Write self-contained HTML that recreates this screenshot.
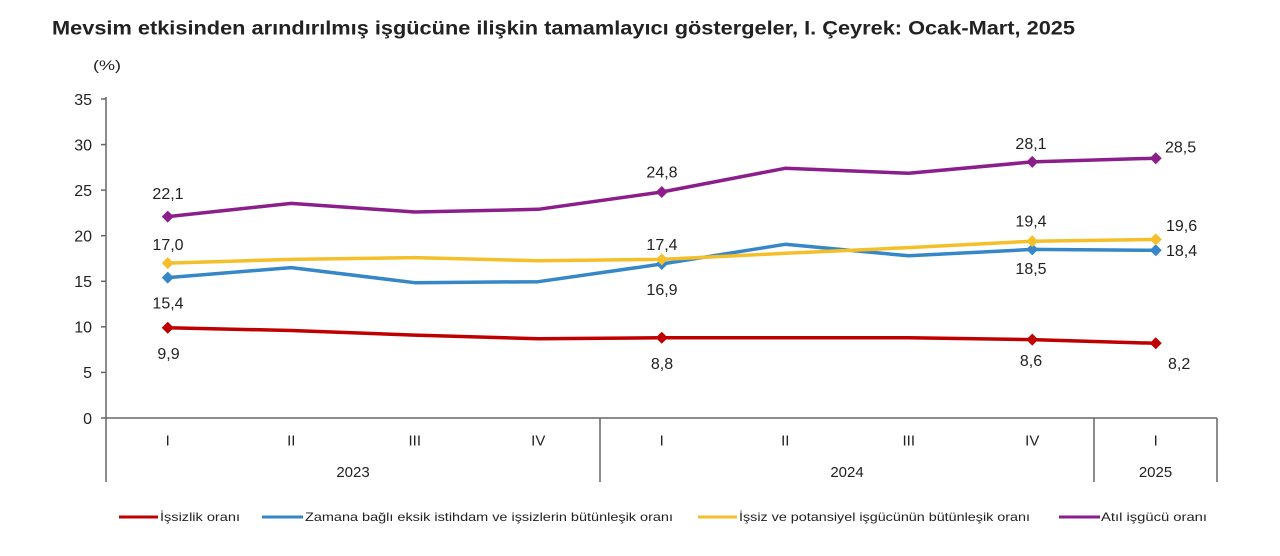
<!DOCTYPE html>
<html><head><meta charset="utf-8"><style>
html,body{margin:0;padding:0;background:#fff;width:1280px;height:556px;overflow:hidden}
svg{display:block}
text{font-family:"Liberation Sans",Arial,sans-serif;fill:#222}
</style></head><body>
<svg width="1280" height="556" viewBox="0 0 1280 556" xmlns="http://www.w3.org/2000/svg">
<text x="52" y="34.5" font-size="19" font-weight="bold" fill="#111" textLength="1023" lengthAdjust="spacingAndGlyphs">Mevsim etkisinden arındırılmış işgücüne ilişkin tamamlayıcı göstergeler, I. Çeyrek: Ocak-Mart, 2025</text>
<text x="93" y="70" font-size="14" textLength="28" lengthAdjust="spacingAndGlyphs">(%)</text>

<!-- y axis ticks and labels -->
<g stroke="#666" stroke-width="1.5">
<line x1="106" y1="97" x2="106" y2="482"/>
<line x1="106" y1="418" x2="1217" y2="418"/>
<line x1="600" y1="418" x2="600" y2="482"/>
<line x1="1094" y1="418" x2="1094" y2="482"/>
<line x1="1217" y1="418" x2="1217" y2="482"/>
<line x1="101" y1="418" x2="106" y2="418"/>
<line x1="101" y1="372.4" x2="106" y2="372.4"/>
<line x1="101" y1="326.8" x2="106" y2="326.8"/>
<line x1="101" y1="281.3" x2="106" y2="281.3"/>
<line x1="101" y1="235.7" x2="106" y2="235.7"/>
<line x1="101" y1="190.1" x2="106" y2="190.1"/>
<line x1="101" y1="144.6" x2="106" y2="144.6"/>
<line x1="101" y1="99" x2="106" y2="99"/>
</g>
<g font-size="16" text-anchor="end">
<text x="92" y="423.8">0</text>
<text x="92" y="378.2">5</text>
<text x="92" y="332.6">10</text>
<text x="92" y="287.1">15</text>
<text x="92" y="241.5">20</text>
<text x="92" y="195.9">25</text>
<text x="92" y="150.4">30</text>
<text x="92" y="104.8">35</text>
</g>

<!-- x labels -->
<g font-size="15" text-anchor="middle">
<text x="167.75" y="445.4">I</text>
<text x="291.25" y="445.4">II</text>
<text x="414.75" y="445.4">III</text>
<text x="538.25" y="445.4">IV</text>
<text x="661.75" y="445.4">I</text>
<text x="785.25" y="445.4">II</text>
<text x="908.75" y="445.4">III</text>
<text x="1032.25" y="445.4">IV</text>
<text x="1155.75" y="445.4">I</text>
<text x="353" y="477">2023</text>
<text x="847" y="477">2024</text>
<text x="1155.5" y="477">2025</text>
</g>

<!-- series -->
<g fill="none" stroke-width="3.5" stroke-linejoin="round" stroke-linecap="round">
<polyline stroke="#C00000" points="167.75,327.8 291.25,330.5 414.75,335.1 538.25,338.7 661.75,337.8 785.25,337.8 908.75,337.8 1032.25,339.6 1155.75,343.3"/>
<polyline stroke="#3587C7" points="167.75,277.6 291.25,267.6 414.75,282.7 538.25,281.7 661.75,264.0 785.25,244.3 908.75,255.8 1032.25,249.4 1155.75,250.3"/>
<polyline stroke="#F5BF2A" points="167.75,263.1 291.25,259.4 414.75,257.6 538.25,260.7 661.75,259.4 785.25,253.3 908.75,247.6 1032.25,241.2 1155.75,239.4"/>
<polyline stroke="#8B1E8B" points="167.75,216.6 291.25,203.4 414.75,212.0 538.25,209.3 661.75,192.0 785.25,168.3 908.75,173.3 1032.25,161.9 1155.75,158.2"/>
</g>

<!-- markers -->
<defs><path id="d" d="M0,-6 L6,0 L0,6 L-6,0 Z"/></defs>
<g fill="#C00000">
<use href="#d" x="167.75" y="327.8"/><use href="#d" x="661.75" y="337.8"/><use href="#d" x="1032.25" y="339.6"/><use href="#d" x="1155.75" y="343.3"/>
</g>
<g fill="#3587C7">
<use href="#d" x="167.75" y="277.6"/><use href="#d" x="661.75" y="264.0"/><use href="#d" x="1032.25" y="249.4"/><use href="#d" x="1155.75" y="250.3"/>
</g>
<g fill="#F5BF2A">
<use href="#d" x="167.75" y="263.1"/><use href="#d" x="661.75" y="259.4"/><use href="#d" x="1032.25" y="241.2"/><use href="#d" x="1155.75" y="239.4"/>
</g>
<g fill="#8B1E8B">
<use href="#d" x="167.75" y="216.6"/><use href="#d" x="661.75" y="192.0"/><use href="#d" x="1032.25" y="161.9"/><use href="#d" x="1155.75" y="158.2"/>
</g>

<!-- data labels -->
<g font-size="16" text-anchor="middle">
<text x="168" y="198.8">22,1</text>
<text x="168" y="249.8">17,0</text>
<text x="168" y="308.5">15,4</text>
<text x="168.5" y="358.8">9,9</text>
<text x="662" y="177.5">24,8</text>
<text x="662" y="249.8">17,4</text>
<text x="662" y="294.8">16,9</text>
<text x="662" y="368.8">8,8</text>
<text x="1031" y="149.1">28,1</text>
<text x="1031" y="226.5">19,4</text>
<text x="1031" y="274.1">18,5</text>
<text x="1031" y="365.8">8,6</text>
</g>
<g font-size="16">
<text x="1165" y="152.5">28,5</text>
<text x="1166" y="230.8">19,6</text>
<text x="1166" y="255.8">18,4</text>
<text x="1168" y="369.1">8,2</text>
</g>

<!-- legend -->
<g stroke-width="3">
<line x1="119" y1="517" x2="158" y2="517" stroke="#C00000"/>
<line x1="262" y1="517" x2="303" y2="517" stroke="#3587C7"/>
<line x1="698" y1="517" x2="737" y2="517" stroke="#F5BF2A"/>
<line x1="1059" y1="517" x2="1100" y2="517" stroke="#8B1E8B"/>
</g>
<g font-size="12" fill="#333">
<text x="160" y="521" textLength="80" lengthAdjust="spacingAndGlyphs">İşsizlik oranı</text>
<text x="305" y="521" textLength="368" lengthAdjust="spacingAndGlyphs">Zamana bağlı eksik istihdam ve işsizlerin bütünleşik oranı</text>
<text x="739" y="521" textLength="291" lengthAdjust="spacingAndGlyphs">İşsiz ve potansiyel işgücünün bütünleşik oranı</text>
<text x="1101" y="521" textLength="106" lengthAdjust="spacingAndGlyphs">Atıl işgücü oranı</text>
</g>
</svg>
</body></html>
